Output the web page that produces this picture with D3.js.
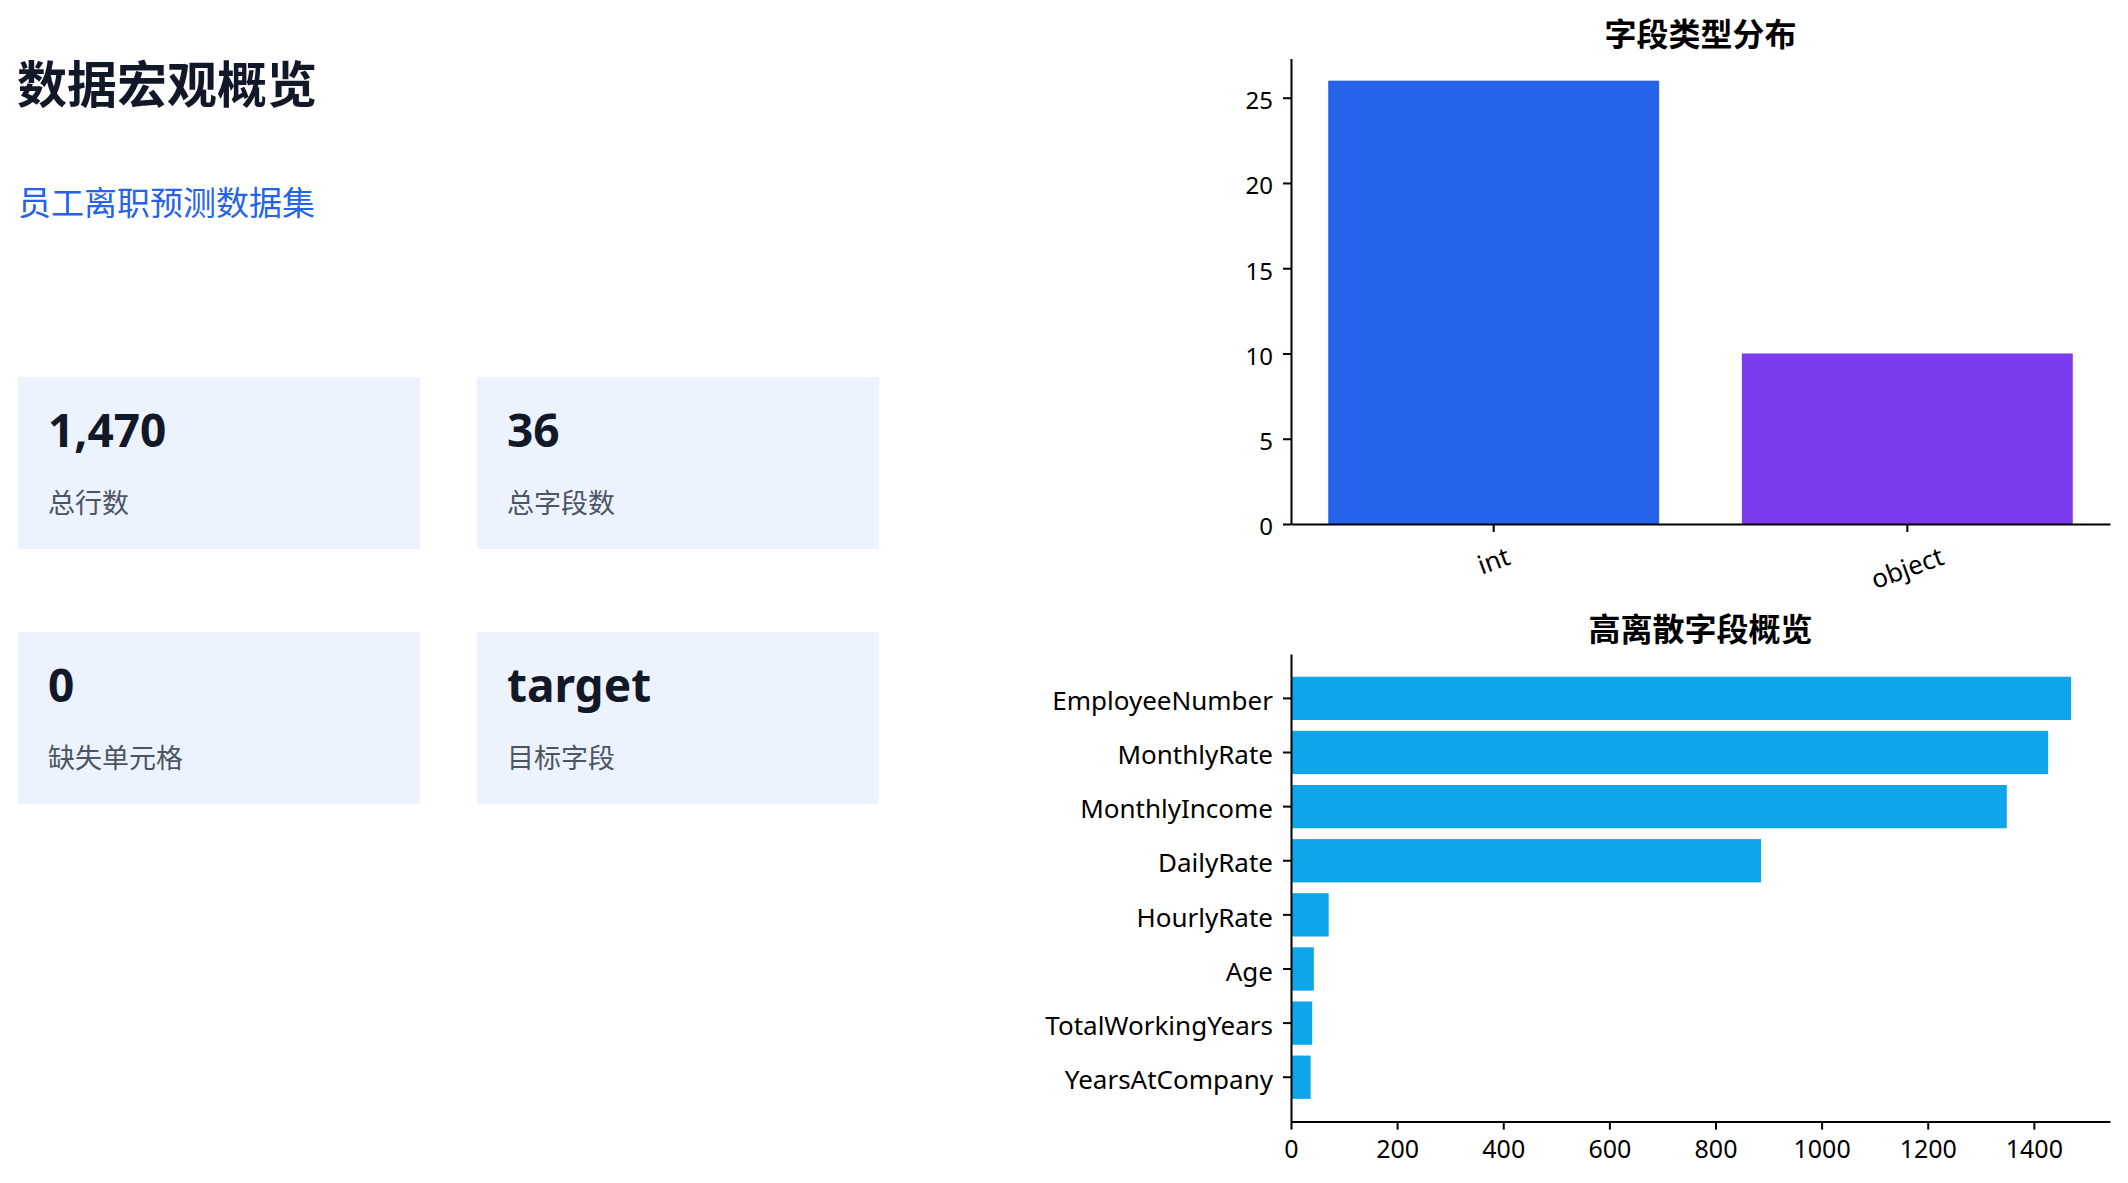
<!DOCTYPE html>
<html>
<head>
<meta charset="utf-8">
<script src="https://cdn.jsdelivr.net/npm/d3@7"></script>
<style>
  html, body { margin: 0; padding: 0; background: #ffffff; }
  svg { display: block; }
</style>
</head>
<body>
<svg id="chart" width="2128" height="1183"></svg>
<script>
// ---------------- data ----------------
const pageTitle = "数据宏观概览";
const pageSubtitle = "员工离职预测数据集";
const kpiValues = ["1,470", "36", "0", "target"];
const kpiLabels = ["总行数", "总字段数", "缺失单元格", "目标字段"];

const typeTitle = "字段类型分布";
const typeCategories = ["int", "object"];
const typeCounts = [26, 10];
const typeColors = ["#2563eb", "#7c3aed"];
const typeTicks = [0, 5, 10, 15, 20, 25];

const uniqueTitle = "高离散字段概览";
const fieldNames = ["EmployeeNumber", "MonthlyRate", "MonthlyIncome", "DailyRate",
                    "HourlyRate", "Age", "TotalWorkingYears", "YearsAtCompany"];
const uniqueCounts = [1470, 1427, 1349, 886, 71, 43, 40, 37];
const uniqueTicks = [0, 200, 400, 600, 800, 1000, 1200, 1400];

// ---------------- setup ----------------
const svg = d3.select("#chart");
const latin = "'Noto Sans', 'Noto Sans CJK SC', sans-serif";
const cjk = "'Noto Sans CJK SC', 'Noto Sans', sans-serif";

// ---------------- left panel ----------------
svg.append("text").attr("x", 17).attr("y", 103)
  .attr("font-family", cjk).attr("font-weight", 700).attr("font-size", 50)
  .attr("fill", "#111827").text(pageTitle);

svg.append("text").attr("x", 18).attr("y", 215)
  .attr("font-family", cjk).attr("font-size", 33)
  .attr("fill", "#2563eb").text(pageSubtitle);

const cardX = [18, 477], cardY = [377, 632], cardW = 402, cardH = 172;
kpiValues.forEach((v, i) => {
  const cx = cardX[i % 2], cy = cardY[Math.floor(i / 2)];
  const g = svg.append("g");
  g.append("rect").attr("x", cx).attr("y", cy).attr("width", cardW).attr("height", cardH)
    .attr("fill", "#edf3fe");
  g.append("text").attr("x", cx + 30).attr("y", cy + 70)
    .attr("font-family", latin).attr("font-weight", 700).attr("font-size", 46)
    .attr("fill", "#111827").text(v);
  g.append("text").attr("x", cx + 30).attr("y", cy + 136)
    .attr("font-family", cjk).attr("font-size", 27)
    .attr("fill", "#4b5563").text(kpiLabels[i]);
});

function styleAxis(g, fs) {
  g.selectAll(".domain").attr("stroke", "#000").attr("stroke-width", 2);
  g.selectAll(".tick line").attr("stroke", "#000").attr("stroke-width", 2);
  g.selectAll(".tick text").attr("fill", "#000").attr("font-family", latin).attr("font-size", fs);
}

// ---------------- top chart: type distribution ----------------
const t = { left: 1291, right: 2110, top: 58.5, bottom: 524 };
const xType = d3.scaleBand().domain(typeCategories).range([t.left, t.right])
  .paddingInner(0.2).paddingOuter(0.09);
const yType = d3.scaleLinear().domain([0, 26 * 1.05]).range([t.bottom, t.top]);

svg.append("g").selectAll("rect").data(typeCategories).join("rect")
  .attr("x", d => xType(d)).attr("width", xType.bandwidth())
  .attr("y", (d, i) => yType(typeCounts[i]))
  .attr("height", (d, i) => yType(0) - yType(typeCounts[i]))
  .attr("fill", (d, i) => typeColors[i]);

const yAxT = svg.append("g").attr("transform", `translate(${t.left},0)`)
  .call(d3.axisLeft(yType).tickValues(typeTicks).tickSize(8).tickSizeOuter(0).tickPadding(10));
styleAxis(yAxT, 24);
yAxT.selectAll(".tick text").attr("dy", "0.45em");

const xAxT = svg.append("g").attr("transform", `translate(0,${t.bottom})`)
  .call(d3.axisBottom(xType).tickSize(8).tickSizeOuter(0));
styleAxis(xAxT, 26);
xAxT.selectAll(".tick text").each(function () {
  const el = d3.select(this);
  const w = this.getComputedTextLength();
  const h = 0.75 * 26;
  const a = 20 * Math.PI / 180;
  const half = (w * Math.sin(a) + h * Math.cos(a)) / 2;
  el.attr("y", null).attr("dy", "0.35em").attr("text-anchor", "middle")
    .attr("transform", `translate(0,${22 + half}) rotate(-20)`);
});

svg.append("text").attr("x", (t.left + t.right) / 2).attr("y", 46)
  .attr("text-anchor", "middle").attr("font-family", cjk).attr("font-weight", 700)
  .attr("font-size", 32).attr("fill", "#000").text(typeTitle);

// ---------------- bottom chart: unique counts ----------------
const b = { left: 1291, right: 2110, top: 654, bottom: 1121.6 };
const yUni = d3.scaleBand().domain(fieldNames).range([b.top, b.bottom])
  .paddingInner(0.2).paddingOuter(0.42);
const xUni = d3.scaleLinear().domain([0, 1470 * 1.05]).range([b.left, b.right]);

svg.append("g").selectAll("rect").data(fieldNames).join("rect")
  .attr("x", xUni(0)).attr("y", d => yUni(d))
  .attr("width", (d, i) => xUni(uniqueCounts[i]) - xUni(0))
  .attr("height", yUni.bandwidth())
  .attr("fill", "#0ea5e9");

const yAxB = svg.append("g").attr("transform", `translate(${b.left},0)`)
  .call(d3.axisLeft(yUni).tickSize(8).tickSizeOuter(0).tickPadding(10));
styleAxis(yAxB, 26);
yAxB.selectAll(".tick text").attr("dy", "0.45em");

const xAxB = svg.append("g").attr("transform", `translate(0,${b.bottom})`)
  .call(d3.axisBottom(xUni).tickValues(uniqueTicks).tickFormat(d3.format("d"))
    .tickSize(8).tickSizeOuter(0).tickPadding(11));
styleAxis(xAxB, 25);

svg.append("text").attr("x", (b.left + b.right) / 2).attr("y", 641)
  .attr("text-anchor", "middle").attr("font-family", cjk).attr("font-weight", 700)
  .attr("font-size", 32).attr("fill", "#000").text(uniqueTitle);
</script>
</body>
</html>
